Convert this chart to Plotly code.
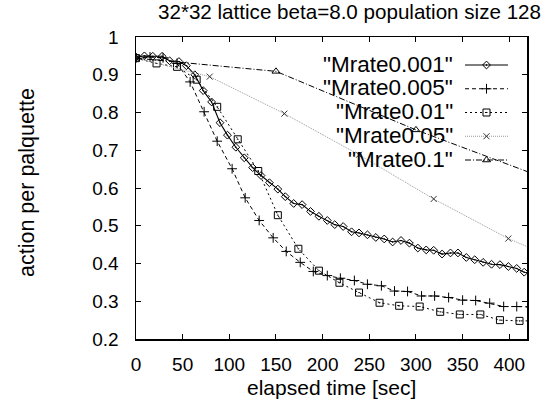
import plotly.graph_objects as go

# ---------------- data ----------------
t_0001 = [0, 9, 18, 28, 36, 46, 54, 63, 72, 81, 90, 98, 107, 116, 125, 134, 143, 152, 160, 169,
          178, 187, 196, 205, 213, 222, 231, 239, 248, 257, 266, 275, 284, 293, 302, 311, 319, 328,
          337, 345, 354, 363, 372, 381, 390, 399, 408, 416, 425]
v_0001 = [0.947, 0.950, 0.949, 0.949, 0.937, 0.935, 0.924, 0.900, 0.858, 0.828, 0.773, 0.740, 0.708,
          0.680, 0.654, 0.633, 0.614, 0.597, 0.577, 0.559, 0.556, 0.538, 0.525, 0.514, 0.503, 0.498,
          0.484, 0.481, 0.476, 0.469, 0.465, 0.457, 0.461, 0.454, 0.441, 0.436, 0.435, 0.425, 0.428,
          0.428, 0.416, 0.410, 0.403, 0.398, 0.397, 0.392, 0.387, 0.377, 0.374]

t_0005 = [0, 15, 29, 44, 58, 73, 87, 103, 117, 132, 147, 161, 176, 190, 205, 219, 234, 248, 263, 277,
          291, 306, 320, 335, 350, 364, 379, 394, 408, 423]
v_0005 = [0.944, 0.947, 0.945, 0.930, 0.881, 0.802, 0.724, 0.651, 0.574, 0.514, 0.468, 0.432, 0.403,
          0.379, 0.368, 0.361, 0.355, 0.345, 0.341, 0.327, 0.326, 0.314, 0.314, 0.310, 0.303, 0.302,
          0.295, 0.286, 0.286, 0.285]

t_001 = [0, 22, 44, 65, 87, 109, 131, 152, 174, 196, 218, 239, 261, 282, 304, 326, 347, 369, 390, 411, 433]
v_001 = [0.944, 0.930, 0.921, 0.887, 0.815, 0.729, 0.645, 0.528, 0.439, 0.381, 0.349, 0.323, 0.296,
         0.288, 0.286, 0.272, 0.265, 0.265, 0.250, 0.248, 0.248]

t_005 = [0, 79, 159, 239, 319, 399, 479]
v_005 = [0.944, 0.895, 0.797, 0.688, 0.571, 0.466, 0.381]

t_01 = [0, 150, 300, 450]
v_01 = [0.944, 0.909, 0.754, 0.615]

series_names = ['"Mrate0.001"', '"Mrate0.005"', '"Mrate0.01"', '"Mrate0.05"', '"Mrate0.1"']
x_ticks = [0, 50, 100, 150, 200, 250, 300, 350, 400]
y_ticks = [0.2, 0.3, 0.4, 0.5, 0.6, 0.7, 0.8, 0.9, 1.0]
y_tick_labels = ["0.2", "0.3", "0.4", "0.5", "0.6", "0.7", "0.8", "0.9", "1"]

title_text = "32*32 lattice beta=8.0 population size 128"
x_title = "elapsed time [sec]"
y_title = "action per palquette"

# ---------------- styles ----------------
FONT = "Liberation Sans, Arial, Helvetica, sans-serif"
W, H = 552, 405
ML, MR, MT, MB = 136, 25, 37, 66
PW, PH = W - ML - MR, H - MT - MB


def px(x):
    return (x - ML) / PW


def py(y):
    return (H - MB - y) / PH


styles = [
    dict(color="black", dash="solid", width=1.1, symbol="diamond-open-dot", size=6, mcolor="black"),
    dict(color="black", dash="4px,3px", width=1.0, symbol="cross-thin-open", size=7, mcolor="black"),
    dict(color="black", dash="2px,3px", width=1.0, symbol="square-open-dot", size=7, mcolor="black"),
    dict(color="#999999", dash="1px,1px", width=1.0, symbol="x-thin-open", size=6, mcolor="#333333"),
    dict(color="black", dash="6px,2px,1px,2px", width=1.0, symbol="triangle-up-open", size=7, mcolor="black"),
]
data = [(t_0001, v_0001), (t_0005, v_0005), (t_001, v_001), (t_005, v_005), (t_01, v_01)]

fig = go.Figure()
for (tx, vy), st, name in zip(data, styles, series_names):
    fig.add_trace(go.Scatter(
        x=tx, y=vy, mode="lines+markers", name=name, showlegend=False,
        line=dict(color=st["color"], dash=st["dash"], width=st["width"]),
        marker=dict(symbol=st["symbol"], size=st["size"], color=st["mcolor"],
                    line=dict(color=st["mcolor"], width=1)),
        cliponaxis=True,
    ))

# ---------------- manual key (text left, sample right, like gnuplot) ----------------
LEG_TEXT_R = 455
LEG_L0, LEG_L1 = 465, 508
LEG_ROW0, LEG_DY = 65, 23.75
for i, (st, name) in enumerate(zip(styles, series_names)):
    yy = py(LEG_ROW0 + i * LEG_DY)
    fig.add_trace(go.Scatter(
        x=[px(LEG_L0), px(LEG_L1)], y=[yy, yy], xaxis="x2", yaxis="y2",
        mode="lines", showlegend=False, hoverinfo="skip",
        line=dict(color=st["color"], dash=st["dash"], width=st["width"]), cliponaxis=False,
    ))
    fig.add_trace(go.Scatter(
        x=[px((LEG_L0 + LEG_L1) / 2)], y=[yy], xaxis="x2", yaxis="y2",
        mode="markers", showlegend=False, hoverinfo="skip",
        marker=dict(symbol=st["symbol"], size=st["size"], color=st["mcolor"],
                    line=dict(color=st["mcolor"], width=1)), cliponaxis=False,
    ))
    fig.add_annotation(x=px(LEG_TEXT_R), y=py(LEG_ROW0 + i * LEG_DY - 1), xref="paper", yref="paper",
                       text=name, showarrow=False, xanchor="right", yanchor="middle",
                       font=dict(family=FONT, size=22.5, color="black"))

# titles
fig.add_annotation(x=px(349.5), y=py(12), xref="paper", yref="paper", text=title_text,
                   showarrow=False, xanchor="center", yanchor="middle",
                   font=dict(family=FONT, size=20.6, color="black"))
fig.add_annotation(x=px(331), y=py(387), xref="paper", yref="paper", text=x_title,
                   showarrow=False, xanchor="center", yanchor="middle",
                   font=dict(family=FONT, size=21, color="black"))
fig.add_annotation(x=px(27), y=py(182), xref="paper", yref="paper", text=y_title, textangle=-90,
                   showarrow=False, xanchor="center", yanchor="middle",
                   font=dict(family=FONT, size=21.5, color="black"))

axis_common = dict(showgrid=False, zeroline=False, showline=True, linecolor="black", linewidth=1.5,
                   mirror="ticks", ticks="inside", ticklen=5, tickwidth=1, tickcolor="black",
                   tickfont=dict(family=FONT, size=19, color="black"))

fig.update_layout(
    width=W, height=H, margin=dict(l=ML, r=MR, t=MT, b=MB, pad=0),
    paper_bgcolor="white", plot_bgcolor="white",
    xaxis=dict(range=[0, 419], tickvals=x_ticks, ticktext=[str(v) for v in x_ticks],
               ticklabelstandoff=8, **axis_common),
    yaxis=dict(range=[0.2, 1.0], tickvals=y_ticks, ticktext=y_tick_labels,
               ticklabelstandoff=12, **axis_common),
    xaxis2=dict(range=[0, 1], overlaying="x", anchor="y2", visible=False, fixedrange=True),
    yaxis2=dict(range=[0, 1], overlaying="y", anchor="x2", visible=False, fixedrange=True),
    showlegend=False,
)

fig.write_html("out.html", config={"displayModeBar": False, "staticPlot": True},
               post_script="document.body.style.margin='0';document.body.style.overflow='hidden';")
